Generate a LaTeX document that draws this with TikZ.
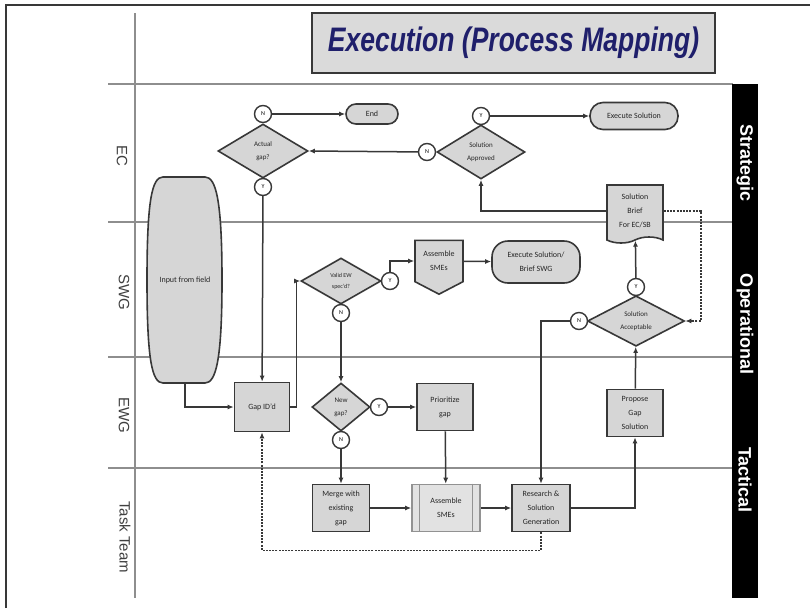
\documentclass[tikz,border=0pt]{standalone}
\usepackage{fontspec}
\setmainfont{Carlito}
\newfontfamily\arialfont{Liberation Sans}
\usetikzlibrary{shapes.geometric, shapes.symbols, arrows.meta, positioning}

\definecolor{boxgray}{HTML}{D6D6D6}
\definecolor{lightbox}{HTML}{E2E2E2}
\definecolor{edgegray}{HTML}{383838}
\definecolor{lanegray}{HTML}{8E8E8E}
\definecolor{titleblue}{HTML}{1F1F6B}

\begin{document}
\begin{tikzpicture}[x=1pt, y=-1pt, font=\fontsize{8}{14}\selectfont]
        % Setup the styles for the chart
        \tikzset{box style/.style={rectangle,
                                   draw=edgegray,
                                   line width=1.6pt,
                                   fill=boxgray,
                                   align=center,
                                   inner sep=1pt,
                                   text=black!85,
                                   minimum width=56pt,
                                   minimum height=47pt},
                 decision style/.style={diamond,
                                   draw=edgegray,
                                   line width=1.6pt,
                                   fill=boxgray,
                                   align=center,
                                   inner sep=0pt,
                                   text=black!85,
                                   font=\fontsize{7}{13}\selectfont},
                 end style/.style={rectangle,
                                   draw=edgegray,
                                   line width=1.6pt,
                                   fill=boxgray,
                                   align=center,
                                   text=black!85,
                                   inner sep=1pt},
                 yn style/.style={circle,
                                   draw=edgegray,
                                   line width=1.4pt,
                                   fill=white,
                                   minimum size=17pt,
                                   inner sep=0pt,
                                   font=\fontsize{6}{6}\selectfont},
                 flow/.style={draw=edgegray,
                              line width=1.5pt,
                              -{Latex[length=6pt,width=5pt]}},
                 back flow/.style={flow, dashed, dash pattern=on 2pt off 1.2pt},
                 lane line/.style={draw=lanegray, line width=1.6pt},
                 lane label/.style={rotate=-90,
                                    text=black!75,
                                    font=\arialfont\fontsize{15}{15}\selectfont},
                 band label/.style={rotate=-90,
                                    text=white,
                                    font=\arialfont\bfseries\fontsize{18}{18}\selectfont}}

        \fill[white] (0,0) rectangle (810,608);
        \useasboundingbox (0,0) rectangle (810,608);
        \draw[edgegray, line width=1.5pt] (6,608) -- (6,5) -- (810,5);

        % Title
        \node[draw=edgegray, line width=1.8pt, fill=boxgray!90!white,
              minimum width=403pt, minimum height=60pt] at (513.5,43) (title)
              {\scalebox{0.78}[1]{\arialfont\bfseries\itshape\fontsize{34}{34}\selectfont
               \color{titleblue}Execution (Process Mapping)}};

        % Swim lanes
        \foreach \y in {84,222,357,468}
                \draw[lane line] (108,\y) -- (733,\y);
        \draw[lane line] (135,13) -- (135,598);
        \fill[black] (732,84) rectangle (758,598);

        \node[lane label] at (122,156) (ec) {EC};
        \node[lane label] at (124,292) (swg) {SWG};
        \node[lane label] at (124,415) (ewg) {EWG};
        \node[lane label] at (125,537) (task) {Task Team};

        \node[band label] at (745,163) (strategic) {Strategic};
        \node[band label] at (745,324) (operational) {Operational};
        \node[band label] at (745,480) (tactical) {Tactical};

        % Input from the field
        \draw[draw=edgegray, line width=1.6pt, fill=boxgray]
              (163,177) -- (205,177) .. controls (216,177) and (222,200) .. (222,280)
              .. controls (222,360) and (216,383) .. (205,383) -- (163,383)
              .. controls (152,383) and (147,360) .. (147,280)
              .. controls (147,200) and (152,177) .. (163,177) -- cycle;
        \node[minimum width=75pt, minimum height=206pt, inner sep=0pt, text=black!85] at (185,280) (field) {Input from field};

        % EC lane
        \node[decision style, minimum width=90pt, minimum height=54pt] at (263,151) (actual) {Actual\\gap?};
        \node[yn style] at (263,114) (n1) {N};
        \node[yn style] at (263,187) (y1) {Y};
        \node[end style, rounded corners=10pt, minimum width=52pt, minimum height=20pt] at (372,114) (finish) {End};
        \node[decision style, minimum width=88pt, minimum height=54pt] at (481,152) (approved) {Solution\\Approved};
        \node[yn style] at (427,152) (n2) {N};
        \node[yn style] at (481,116) (y2) {Y};
        \node[end style, rounded corners=13pt, minimum width=88pt, minimum height=27pt] at (634,116) (execsol) {Execute Solution};
        \node[end style, tape, tape bend top=none, tape bend height=6pt,
              minimum width=56pt, minimum height=58pt] at (635,211) (brief) {Solution\\Brief\\For EC/SB};

        % SWG lane
        \node[decision style, minimum width=80pt, minimum height=46pt,
              font=\fontsize{6}{11}\selectfont] at (341,281) (valid) {Valid EW\\spec'd?};
        \node[yn style] at (390,281) (y3) {Y};
        \node[yn style] at (341,313) (n3) {N};
        \node[end style, signal, signal to=south, signal pointer angle=125,
              minimum width=48pt, minimum height=50pt] at (439,261) (smes) {Assemble\\SMEs};
        \node[end style, rounded corners=16pt, minimum width=88pt, minimum height=42pt] at (536,262) (execswg) {Execute Solution/\\Brief SWG};
        \node[decision style, minimum width=97pt, minimum height=50pt] at (636,321) (accept) {Solution\\Acceptable};
        \node[yn style] at (636,287) (y4) {Y};
        \node[yn style] at (579,321) (n4) {N};

        % EWG lane
        \node[box style, minimum width=55pt, minimum height=49pt] at (262,407) (gapid) {Gap ID'd};
        \node[decision style, minimum width=58pt, minimum height=48pt] at (341,407) (newgap) {New\\gap?};
        \node[yn style] at (379,407) (y5) {Y};
        \node[yn style] at (341,440) (n5) {N};
        \node[box style] at (445,407) (prior) {Prioritize\\gap};
        \node[box style] at (635,413) (propose) {Propose\\Gap\\Solution};

        % Task Team lane
        \node[box style, minimum width=57pt] at (341,508) (merge) {Merge with\\existing\\gap};
        \node[box style, fill=lightbox, draw=edgegray!55, minimum width=68pt] at (446,508) (smestask) {Assemble\\SMEs};
        \draw[edgegray!55, line width=1.3pt]
              ([xshift=8pt]smestask.north west) -- ([xshift=8pt]smestask.south west)
              ([xshift=-8pt]smestask.north east) -- ([xshift=-8pt]smestask.south east);
        \node[box style, minimum width=58pt] at (541,508) (research) {Research \&\\Solution\\Generation};

        % Connect the steps with arrows
        \draw[flow]
              (n1)       edge (finish)
              (n2)       edge (actual.east)
              (y2)       edge (execsol)
              (y1)       edge (gapid)
              (n3)       edge (newgap)
              (smes)     edge (execswg)
              (y5)       edge (prior)
              (n5)       edge (merge)
              (prior)    edge (smestask)
              (merge)    edge (smestask)
              (smestask) edge (research)
              (propose)  edge (accept)
              (y4)       edge (brief);
        \draw[flow] (brief.west) -| (approved.south);
        \draw[flow] (field.south) |- (gapid.west);
        \draw[flow] (gapid.east) -- ++(6,0) |- (valid.west);
        \draw[flow] (y3.north) |- (smes.west);
        \draw[flow] (n4.west) -| (research.north);
        \draw[flow] (research.east) -| (propose.south);

        % Feedback loops
        \draw[back flow] (brief.east) -- ++(37,0) |- (accept.east);
        \draw[back flow] (research.south) -- ++(0,18) -| (gapid.south);
\end{tikzpicture}
\end{document}
